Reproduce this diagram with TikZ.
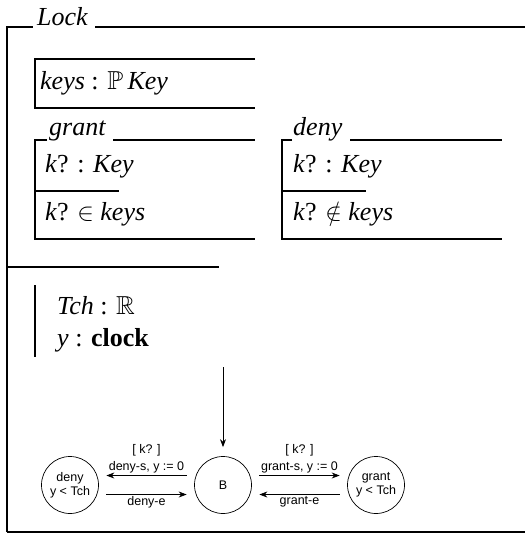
\documentclass[tikz,border=0pt]{standalone}
\usepackage{amssymb}
\usepackage{fontspec}
\setmainfont{Liberation Serif}
\newfontfamily\uppaalfont{Liberation Sans}
\usetikzlibrary{arrows.meta}

\begin{document}
\begin{tikzpicture}[x=1pt,y=-1pt]
\tikzstyle{frame}=[line width=2.4pt]
\tikzstyle{zline}=[line width=1.6pt]
\tikzstyle{ztext}=[anchor=base west,inner sep=0pt,font=\fontsize{26}{30}\selectfont]
\tikzstyle{state}=[circle,draw=black,line width=0.7pt,minimum size=57pt,inner sep=0pt,align=center,font=\uppaalfont\fontsize{12.5}{14}\selectfont]
\tikzstyle{lbl}=[align=center,inner sep=2pt,font=\uppaalfont\fontsize{12.5}{17}\selectfont]
\tikzstyle{trans}=[-{Stealth[length=8pt,width=6pt]},line width=0.8pt]
\useasboundingbox (0,0) rectangle (525,534);

% Lock schema
\node[ztext] (lock) at (37,26) {\textit{Lock}};
\draw[frame] (7,532) -- (7,27) -- (33,27);
\draw[frame] (95,27) -- (525,27);
\draw[frame] (7,532) -- (525,532);
\draw[frame] (7,267) -- (219,267);

% state
\node[ztext] (keys) at (40,90) {\textit{keys} : $\mathbb{P}$\,\textit{Key}};
\draw[zline] (255,59) -- (35,59) -- (35,108) -- (255,108);

% grant
\node[ztext] (grant-t) at (49,136) {\textit{grant}};
\node[ztext] (grant-d) at (45,173) {\textit{k}? : \textit{Key}};
\node[ztext] (grant-p) at (45,221) {\textit{k}? $\in$ \textit{keys}};
\draw[zline] (47,140) -- (35,140) -- (35,239) -- (255,239);
\draw[zline] (113,140) -- (255,140);
\draw[zline] (35,191) -- (119,191);

% deny
\node[ztext] (deny-t) at (293,136) {\textit{deny}};
\node[ztext] (deny-d) at (293,173) {\textit{k}? : \textit{Key}};
\node[ztext] (deny-p) at (293,221) {\textit{k}? $\notin$ \textit{keys}};
\draw[zline] (292,140) -- (282,140) -- (282,239) -- (502,239);
\draw[zline] (350,140) -- (502,140);
\draw[zline] (282,191) -- (366,191);

% clock declarations
\node[ztext] (tch) at (57,314) {\textit{Tch} : $\mathbb{R}$};
\node[ztext] (clk) at (57,346) {\textit{y} : \textbf{clock}};
\draw[zline] (35,285) -- (35,357);

% automaton
\node[state] (B) at (223,485) {B};
\node[state] (deny) at (70,485) {deny\\y < Tch};
\node[state] (grant) at (376,485) {grant\\y < Tch};
\coordinate (init) at (223,367);
\draw[trans,shorten >=9pt] (init) -- (B);
\draw[trans,shorten <=7.5pt,shorten >=7.5pt] ([yshift=9.5pt]B.west) -- node[lbl,above] {[ k? ]\\deny-s, y := 0} ([yshift=9.5pt]deny.east);
\draw[trans,shorten <=7.5pt,shorten >=7.5pt] ([yshift=-9.5pt]deny.east) -- node[lbl,below] {deny-e} ([yshift=-9.5pt]B.west);
\draw[trans,shorten <=7.5pt,shorten >=7.5pt] ([yshift=9.5pt]B.east) -- node[lbl,above] {[ k? ]\\grant-s, y := 0} ([yshift=9.5pt]grant.west);
\draw[trans,shorten <=7.5pt,shorten >=7.5pt] ([yshift=-9.5pt]grant.west) -- node[lbl,below] {grant-e} ([yshift=-9.5pt]B.east);
\end{tikzpicture}
\end{document}
